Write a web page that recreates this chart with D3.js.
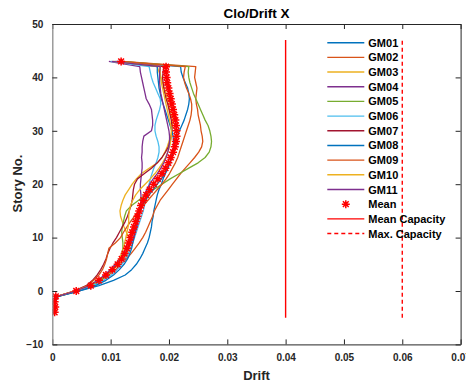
<!DOCTYPE html>
<html>
<head>
<meta charset="utf-8">
<script src="https://cdn.jsdelivr.net/npm/d3@7"></script>
<style>
  html, body { margin: 0; padding: 0; background: #fff; }
  svg { display: block; }
  text { font-family: "Liberation Sans", Arial, sans-serif; font-weight: bold; }
</style>
</head>
<body>
<svg id="chart" width="466" height="383"></svg>
<script>
// ---------------- DATA ----------------
const stories = [-4,-3,-2,-1,0,1,2,3,4,5,6,7,8,9,10,11,12,13,14,15,16,17,18,19,20,21,22,23,24,25,26,27,28,29,30,31,32,33,34,35,36,37,38,39,40,41,42,43];

const seriesNames = ["GM01","GM02","GM03","GM04","GM05","GM06","GM07","GM08","GM09","GM10","GM11"];
const seriesColors = ["#0072BD","#D95319","#EDB120","#7E2F8E","#77AC30","#4DBEEE","#A2142F","#0072BD","#D95319","#EDB120","#7E2F8E"];

const GM01 = [0.0003,0.0004,0.0005,0.0010, 0.0045,0.0080,0.0105,0.0125,0.0136,0.0144,0.0150,0.0155,0.0159,0.0163,0.0166,0.0168,0.0170,0.0171,0.0173,0.0174,0.0176,0.0178,0.0180,0.0183,0.0187,0.0190,0.0194,0.0198,0.0201,0.0204,0.0206,0.0208,0.0211,0.0214,0.0218,0.0222,0.0226,0.0229,0.0232,0.0234,0.0235,0.0234,0.0232,0.0228,0.0224,0.0221,0.0220,0.0112];
const GM02 = [0.0004,0.0003,0.0005,0.0009, 0.0040,0.0068,0.0084,0.0097,0.0108,0.0118,0.0127,0.0135,0.0142,0.0149,0.0155,0.0160,0.0164,0.0168,0.0172,0.0175,0.0180,0.0185,0.0192,0.0199,0.0206,0.0213,0.0220,0.0228,0.0236,0.0244,0.0251,0.0256,0.0258,0.0257,0.0255,0.0254,0.0252,0.0250,0.0249,0.0247,0.0246,0.0247,0.0248,0.0246,0.0244,0.0245,0.0246,0.0120];
const GM03 = [0.0003,0.0004,0.0004,0.0008, 0.0038,0.0062,0.0078,0.0092,0.0104,0.0114,0.0122,0.0128,0.0132,0.0134,0.0131,0.0127,0.0123,0.0120,0.0117,0.0116,0.0118,0.0121,0.0125,0.0131,0.0137,0.0144,0.0153,0.0166,0.0180,0.0188,0.0193,0.0197,0.0200,0.0203,0.0205,0.0206,0.0206,0.0204,0.0201,0.0199,0.0197,0.0195,0.0192,0.0189,0.0186,0.0183,0.0180,0.0106];
const GM04 = [0.0004,0.0004,0.0003,0.0009, 0.0042,0.0065,0.0079,0.0090,0.0100,0.0108,0.0115,0.0121,0.0126,0.0130,0.0134,0.0138,0.0141,0.0144,0.0147,0.0149,0.0151,0.0152,0.0152,0.0151,0.0151,0.0152,0.0153,0.0154,0.0154,0.0153,0.0154,0.0154,0.0155,0.0157,0.0170,0.0172,0.0172,0.0171,0.0170,0.0166,0.0161,0.0159,0.0157,0.0155,0.0153,0.0151,0.0150,0.0097];
const GM05 = [0.0003,0.0005,0.0004,0.0010, 0.0043,0.0069,0.0083,0.0094,0.0104,0.0111,0.0116,0.0119,0.0121,0.0121,0.0120,0.0119,0.0120,0.0122,0.0124,0.0127,0.0136,0.0148,0.0160,0.0174,0.0188,0.0202,0.0218,0.0234,0.0250,0.0262,0.0269,0.0272,0.0273,0.0272,0.0270,0.0267,0.0262,0.0258,0.0254,0.0250,0.0246,0.0242,0.0239,0.0236,0.0234,0.0233,0.0234,0.0116];
const GM06 = [0.0004,0.0003,0.0005,0.0009, 0.0041,0.0070,0.0088,0.0101,0.0111,0.0119,0.0125,0.0130,0.0134,0.0138,0.0141,0.0144,0.0147,0.0150,0.0153,0.0156,0.0158,0.0160,0.0162,0.0164,0.0166,0.0168,0.0171,0.0174,0.0178,0.0181,0.0183,0.0183,0.0181,0.0178,0.0176,0.0176,0.0178,0.0181,0.0184,0.0186,0.0185,0.0181,0.0177,0.0173,0.0170,0.0168,0.0166,0.0100];
const GM07 = [0.0003,0.0004,0.0004,0.0008, 0.0037,0.0058,0.0069,0.0077,0.0083,0.0088,0.0092,0.0095,0.0099,0.0104,0.0110,0.0115,0.0120,0.0125,0.0129,0.0132,0.0135,0.0137,0.0138,0.0139,0.0141,0.0146,0.0158,0.0170,0.0180,0.0188,0.0194,0.0199,0.0202,0.0204,0.0205,0.0205,0.0204,0.0202,0.0200,0.0198,0.0195,0.0193,0.0191,0.0190,0.0189,0.0190,0.0191,0.0110];
const GM08 = [0.0004,0.0004,0.0005,0.0010, 0.0046,0.0074,0.0092,0.0105,0.0115,0.0123,0.0129,0.0133,0.0136,0.0138,0.0140,0.0142,0.0144,0.0146,0.0148,0.0151,0.0155,0.0160,0.0166,0.0173,0.0180,0.0187,0.0193,0.0198,0.0202,0.0205,0.0207,0.0208,0.0208,0.0207,0.0205,0.0202,0.0199,0.0196,0.0193,0.0190,0.0187,0.0185,0.0183,0.0182,0.0181,0.0180,0.0180,0.0108];
const GM09 = [0.0003,0.0004,0.0004,0.0009, 0.0038,0.0060,0.0071,0.0080,0.0086,0.0090,0.0093,0.0095,0.0097,0.0108,0.0117,0.0122,0.0128,0.0134,0.0141,0.0148,0.0156,0.0164,0.0172,0.0180,0.0188,0.0195,0.0201,0.0206,0.0211,0.0215,0.0218,0.0221,0.0224,0.0227,0.0230,0.0233,0.0236,0.0238,0.0239,0.0239,0.0237,0.0234,0.0230,0.0227,0.0225,0.0226,0.0228,0.0118];
const GM10 = [0.0004,0.0003,0.0004,0.0008, 0.0039,0.0064,0.0079,0.0091,0.0101,0.0109,0.0115,0.0119,0.0122,0.0124,0.0126,0.0128,0.0130,0.0131,0.0131,0.0132,0.0134,0.0138,0.0143,0.0150,0.0159,0.0168,0.0176,0.0183,0.0189,0.0194,0.0198,0.0201,0.0203,0.0204,0.0204,0.0203,0.0201,0.0199,0.0197,0.0195,0.0193,0.0191,0.0189,0.0187,0.0186,0.0185,0.0185,0.0104];
const GM11 = [0.0004,0.0005,0.0004,0.0009, 0.0040,0.0064,0.0078,0.0090,0.0100,0.0109,0.0117,0.0124,0.0130,0.0135,0.0139,0.0142,0.0145,0.0147,0.0149,0.0151,0.0153,0.0155,0.0158,0.0162,0.0167,0.0173,0.0180,0.0186,0.0191,0.0195,0.0198,0.0200,0.0201,0.0201,0.0200,0.0198,0.0196,0.0194,0.0192,0.0190,0.0188,0.0186,0.0185,0.0184,0.0184,0.0184,0.0185,0.0102];

const meanDrift = [0.0004,0.0005,0.0004,0.0006, 0.0041,0.0066,0.0080,0.0092,0.0103,0.0112,0.0119,0.0124,0.0128,0.0131,0.0134,0.0137,0.0140,0.0143,0.0146,0.0149,0.0152,0.0156,0.0161,0.0167,0.0174,0.0181,0.0188,0.0194,0.0199,0.0203,0.0207,0.0210,0.0212,0.0213,0.0213,0.0212,0.0211,0.0209,0.0207,0.0205,0.0203,0.0201,0.0199,0.0197,0.0196,0.0195,0.0195,0.0118];

const meanCapacity = 0.04;
const maxCapacity = 0.06;
const capacityStoryRange = [-5, 47];

const xTicks = [0,0.01,0.02,0.03,0.04,0.05,0.06,0.07];
const xTickLabels = ["0","0.01","0.02","0.03","0.04","0.05","0.06","0.07"];
const yTicks = [-10,0,10,20,30,40,50];
const legendLabels = ["GM01","GM02","GM03","GM04","GM05","GM06","GM07","GM08","GM09","GM10","GM11","Mean","Mean Capacity","Max. Capacity"];

const titleText = "Clo/Drift X";
const xLabel = "Drift";
const yLabel = "Story No.";

// ---------------- CHART ----------------
const allSeries = [GM01,GM02,GM03,GM04,GM05,GM06,GM07,GM08,GM09,GM10,GM11];
const svg = d3.select("#chart");
const L = 52.3, R = 460.6, T = 24, B = 344.4;

const x = d3.scaleLinear().domain([0, 0.07]).range([L, R]);
const y = d3.scaleLinear().domain([-10, 50]).range([B, T]);

const axisColor = "#262626";
const red = "#ff0000";

svg.append("defs").append("clipPath").attr("id","plotclip")
  .append("rect").attr("x", L).attr("y", T).attr("width", R - L).attr("height", B - T);

const plot = svg.append("g").attr("clip-path","url(#plotclip)");

const line = d3.line().x(d => x(d[0])).y(d => y(d[1]));

allSeries.forEach((s, i) => {
  plot.append("path")
    .datum(s.map((v, k) => [v, stories[k]]))
    .attr("d", line)
    .attr("fill","none")
    .attr("stroke", seriesColors[i])
    .attr("stroke-width", 1.3)
    .attr("stroke-linejoin","round");
});

plot.append("line")
  .attr("x1", x(meanCapacity)).attr("x2", x(meanCapacity))
  .attr("y1", y(capacityStoryRange[0])).attr("y2", y(capacityStoryRange[1]))
  .attr("stroke", red).attr("stroke-width",1.4);
plot.append("line")
  .attr("x1", x(maxCapacity)).attr("x2", x(maxCapacity))
  .attr("y1", y(capacityStoryRange[0])).attr("y2", y(capacityStoryRange[1]))
  .attr("stroke", red).attr("stroke-width",1.4).attr("stroke-dasharray","4,3");

function asterisk(r) {
  const a = r * 0.72;
  return `M${-r},0L${r},0M0,${-r}L0,${r}M${-a},${-a}L${a},${a}M${-a},${a}L${a},${-a}`;
}
plot.append("g").selectAll("path")
  .data(meanDrift.map((v, k) => [v, stories[k]]))
  .join("path")
  .attr("transform", d => `translate(${x(d[0])},${y(d[1])})`)
  .attr("d", asterisk(4))
  .attr("fill","none")
  .attr("stroke", red)
  .attr("stroke-width",1.5);

const xAxisB = d3.axisBottom(x).tickValues(xTicks).tickFormat((d,i) => xTickLabels[i]).tickSizeInner(-5).tickSizeOuter(0).tickPadding(10);
const gxb = svg.append("g").attr("transform", `translate(0,${B})`).call(xAxisB);
const xAxisT = d3.axisTop(x).tickValues(xTicks).tickFormat("").tickSizeInner(-5).tickSizeOuter(0);
const gxt = svg.append("g").attr("transform", `translate(0,${T})`).call(xAxisT);
const yAxisL = d3.axisLeft(y).tickValues(yTicks).tickFormat(d3.format("d")).tickSizeInner(-5).tickSizeOuter(0).tickPadding(9);
const gyl = svg.append("g").attr("transform", `translate(${L},0)`).call(yAxisL);
const yAxisR = d3.axisRight(y).tickValues(yTicks).tickFormat("").tickSizeInner(-5).tickSizeOuter(0);
const gyr = svg.append("g").attr("transform", `translate(${R},0)`).call(yAxisR);

[gxb,gxt,gyl,gyr].forEach(g => {
  g.selectAll("path.domain").attr("stroke", axisColor).attr("stroke-width",1);
  g.selectAll(".tick line").attr("stroke", axisColor).attr("stroke-width",1);
  g.selectAll(".tick text").attr("fill", axisColor)
    .style("font-family","'Liberation Sans', Arial, sans-serif")
    .style("font-weight","bold").style("font-size","10px");
});
gyl.select("path.domain").attr("stroke","#8c8c8c").attr("stroke-width",1.3);

svg.append("text").attr("x", 256.5).attr("y", 18).attr("text-anchor","middle")
  .attr("font-size","13.5px").attr("fill","#000").text(titleText);
svg.append("text").attr("x", 256.5).attr("y", 380).attr("text-anchor","middle")
  .attr("font-size","13px").attr("fill","#262626").text(xLabel);
svg.append("text").attr("transform","translate(22,183.5) rotate(-90)").attr("text-anchor","middle")
  .attr("font-size","13px").attr("fill","#262626").text(yLabel);

const lg = svg.append("g");
const lx1 = 327.3, lx2 = 364.3, ltx = 368.3, ly0 = 42.7, ldy = 14.68;
legendLabels.forEach((lab, i) => {
  const yy = ly0 + i * ldy;
  if (i < seriesNames.length) {
    lg.append("line").attr("x1",lx1).attr("x2",lx2).attr("y1",yy).attr("y2",yy)
      .attr("stroke", seriesColors[i]).attr("stroke-width",1.4);
  } else if (lab === "Mean") {
    lg.append("path").attr("transform",`translate(${(lx1+lx2)/2},${yy})`).attr("d", asterisk(4))
      .attr("fill","none").attr("stroke", red).attr("stroke-width",1.5);
  } else if (lab === "Mean Capacity") {
    lg.append("line").attr("x1",lx1).attr("x2",lx2).attr("y1",yy).attr("y2",yy)
      .attr("stroke", red).attr("stroke-width",1.4);
  } else {
    lg.append("line").attr("x1",lx1).attr("x2",lx2).attr("y1",yy).attr("y2",yy)
      .attr("stroke", red).attr("stroke-width",1.4).attr("stroke-dasharray","4,3");
  }
  lg.append("text").attr("x", ltx).attr("y", yy + 4).attr("font-size","11px").attr("fill","#000").text(lab);
});
</script>
</body>
</html>
